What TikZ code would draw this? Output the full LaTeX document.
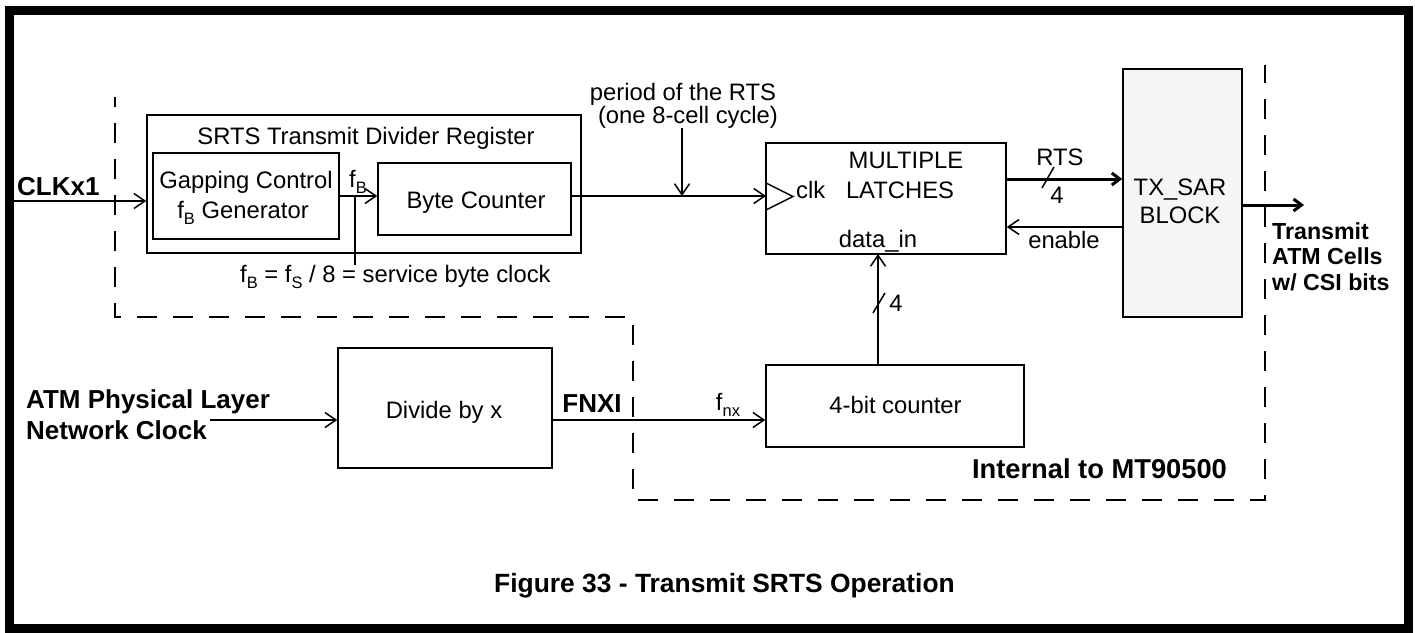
\documentclass[tikz,border=0pt]{standalone}
\usepackage{fontspec}
\setmainfont{Liberation Sans}
\usetikzlibrary{arrows.meta}
\newcommand{\lowsub}[1]{\raisebox{-0.28em}{\fontsize{16.5}{16.5}\selectfont #1}}
\begin{document}
\begin{tikzpicture}[x=1pt,y=-1pt,
  box/.style={draw, line width=1.5pt, inner sep=0pt},
  txt/.style={inner sep=0pt, font=\fontsize{23.8}{30}\selectfont},
  btxt/.style={inner sep=0pt, font=\fontsize{26}{31}\selectfont\bfseries},
  arr/.style={line width=1.5pt, -{Straight Barb[length=11pt,width=15pt]}},
  tarr/.style={line width=3pt, -{Straight Barb[length=8pt,width=12pt]}},
  wire/.style={line width=1.5pt},
  fence/.style={line width=1.5pt, dash pattern=on 20pt off 16pt, dash phase=10pt}
]
\useasboundingbox (0,0) rectangle (1415,632);
\draw[line width=9pt] (9.5,10) rectangle (1408.5,628);

% dashed boundary
\draw[fence] (115,97) -- (115,317) -- (633,317) -- (633,500) -- (1265,500) -- (1265,65);

% boxes
\node[box, minimum width=434pt, minimum height=138pt] (srts) at (364,184) {};
\node[txt, anchor=base] (srtst) at (366,144) {SRTS Transmit Divider Register};
\node[box, minimum width=186pt, minimum height=86pt] (gap) at (246,196) {};
\node[txt, anchor=base] (gapt1) at (246,188) {Gapping Control};
\node[txt, anchor=base] (gapt2) at (243,218) {f\lowsub{B} Generator};
\node[box, minimum width=193pt, minimum height=72pt] (byte) at (474.5,199) {};
\node[txt, anchor=base] (bytet) at (476,208) {Byte Counter};
\node[box, minimum width=240pt, minimum height=111pt] (latch) at (886,198.5) {};
\node[txt, anchor=base] (latt1) at (906,168) {MULTIPLE};
\node[txt, anchor=base] (latt2) at (900,198) {LATCHES};
\node[txt, anchor=base west] (clkt) at (796,198) {clk};
\node[txt, anchor=base] (dint) at (878,247) {data\_in};
\node[box, fill=black!4, minimum width=119pt, minimum height=248pt] (tx) at (1182.5,193) {};
\node[txt, anchor=base] (txt1) at (1180,195) {TX\_SAR};
\node[txt, anchor=base] (txt2) at (1180,223) {BLOCK};
\node[box, minimum width=258pt, minimum height=82pt] (cnt) at (895,406) {};
\node[txt, anchor=base] (cntt) at (895.5,413) {4-bit counter};
\node[box, minimum width=214pt, minimum height=120pt] (div) at (445,408) {};
\node[txt, anchor=base] (divt) at (444,418) {Divide by x};

% clock triangle
\draw[wire] (766,183) -- (793,196.5) -- (766,210);

% labels
\node[btxt, anchor=base west] (clkx) at (17,195) {CLKx1};
\node[txt, anchor=base] (fb) at (358,187) {f\lowsub{B}};
\node[txt, anchor=base west] (fbeq) at (240,282) {f\lowsub{B} = f\lowsub{S} / 8 = service byte clock};
\node[txt, anchor=base] (per1) at (683,100) {period of the RTS};
\node[txt, anchor=base] (per2) at (688,123) {(one 8-cell cycle)};
\node[txt, anchor=base] (rtsl) at (1060,165) {RTS};
\node[txt, anchor=base] (rts4) at (1057,203) {4};
\node[txt, anchor=base] (enl) at (1064,248) {enable};
\node[txt, anchor=base] (d4) at (896,311) {4};
\node[font=\fontsize{23.2}{25.5}\selectfont\bfseries, inner sep=0pt, anchor=base west] (out1) at (1272,239) {Transmit};
\node[font=\fontsize{23.2}{25.5}\selectfont\bfseries, inner sep=0pt, anchor=base west] (out2) at (1272,264.5) {ATM Cells};
\node[font=\fontsize{23.2}{25.5}\selectfont\bfseries, inner sep=0pt, anchor=base west] (out3) at (1272,290) {w/ CSI bits};
\node[btxt, anchor=base west] (atm1) at (26,408) {ATM Physical Layer};
\node[btxt, anchor=base west] (atm2) at (26,439) {Network Clock};
\node[btxt, anchor=base] (fnxi) at (592,412) {FNXI};
\node[txt, anchor=base] (fnx) at (728,410) {f\lowsub{nx}};
\node[btxt, font=\fontsize{27.3}{31}\selectfont\bfseries, anchor=base] (intl) at (1099.5,478) {Internal to MT90500};
\node[btxt, font=\fontsize{26.4}{31}\selectfont\bfseries, anchor=base] (fig) at (724.5,592) {Figure 33 - Transmit SRTS Operation};

% coordinates
\coordinate (clkin) at (14,201);
\coordinate (tap) at (355,196);
\coordinate (tapend) at (355,265);
\coordinate (clkpin) at (766,196);
\coordinate (perin) at (682,128);
\coordinate (perhit) at (682,196);
\coordinate (rtsy) at (0,179);
\coordinate (eny) at (0,227);
\coordinate (din) at (878,254);
\coordinate (atmin) at (210,420);
\coordinate (fy) at (0,420);
\coordinate (outy) at (0,205);
\coordinate (outend) at (1304,205);

% connectors
\draw[arr] (clkin) -- (clkin -| srts.west);
\draw[arr] (gap.east |- tap) -- (byte.west |- tap);
\draw[wire] (tap) -- (tapend);
\draw[arr] (byte.east |- clkpin) -- (clkpin);
\draw[arr] (perin) -- (perhit);
\draw[tarr] (latch.east |- rtsy) -- (tx.west |- rtsy);
\draw[wire] (1042,188) -- (1054,167);
\draw[arr] (tx.west |- eny) -- (latch.east |- eny);
\draw[arr] (din |- cnt.north) -- (din);
\draw[wire] (873,313) -- (885,293);
\draw[arr] (atmin) -- (atmin -| div.west);
\draw[arr] (div.east |- fy) -- (cnt.west |- fy);
\draw[tarr] (tx.east |- outy) -- (outend);
\end{tikzpicture}
\end{document}
